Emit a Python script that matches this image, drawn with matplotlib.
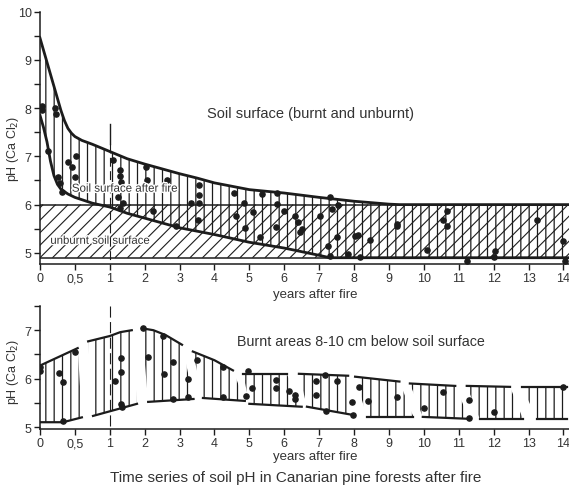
import numpy as np
import matplotlib
matplotlib.use("Agg")
import matplotlib.pyplot as plt
import matplotlib.patheffects as pe
from matplotlib.collections import LineCollection
from matplotlib.ticker import MultipleLocator, NullLocator

plt.rcParams['font.family'] = ['Liberation Sans', 'DejaVu Sans']
plt.rcParams['hatch.linewidth'] = 0.9

INK = '#1c1c1c'
TXT = '#333333'

# ---- top panel: soil surface ----
unburnt_top = 6.0
unburnt_bottom = 4.9

upper_years = [0, 0.05, 0.1, 0.15, 0.2, 0.25, 0.3, 0.35, 0.4, 0.45, 0.5, 0.6, 0.75, 1.0,
               1.5, 2, 2.5, 3, 3.5, 4, 5, 6, 7, 8, 9, 9.3, 14.2]
upper_ph = [9.45, 9.2, 8.95, 8.7, 8.45, 8.2, 7.95, 7.74, 7.58, 7.48, 7.41, 7.33, 7.25, 7.1,
            6.95, 6.84, 6.74, 6.64, 6.55, 6.45, 6.31, 6.24, 6.15, 6.07, 6.01, 6.0, 6.0]
lower_years = [0, 0.05, 0.1, 0.15, 0.2, 0.25, 0.3, 0.4, 0.5, 0.75, 1.0, 1.5, 2, 3, 4, 5, 6, 7, 7.3, 14.2]
lower_ph = [7.85, 7.6, 7.3, 6.9, 6.6, 6.42, 6.32, 6.22, 6.15, 6.03, 5.95, 5.82, 5.72, 5.52, 5.38, 5.22, 5.1, 4.95, 4.9, 4.9]

top_pts_years = [0.03, 0.03, 0.11, 0.21, 0.23, 0.26, 0.29, 0.31, 0.40, 0.46, 0.50, 0.52,
                 1.08, 1.29, 1.29, 1.32, 1.24, 1.29, 1.38, 2.03, 2.06, 2.24, 2.63, 2.9,
                 3.34, 3.57, 3.57, 3.57, 3.54, 4.55, 4.63, 4.84, 4.87, 5.1, 5.36, 5.3,
                 5.79, 5.79, 5.76, 5.99, 6.3, 6.4, 6.5, 6.45, 7.02, 7.3, 7.37, 7.54, 7.5,
                 7.26, 7.3, 7.83, 8.02, 8.1, 8.17, 8.45, 9.23, 9.23, 10.1, 10.55, 10.66,
                 10.66, 11.23, 12.04, 12.0, 13.24, 13.99, 14.04]
top_pts_ph = [8.05, 7.95, 7.12, 8.0, 7.88, 6.57, 6.45, 6.27, 6.88, 6.78, 6.57, 7.0,
              6.92, 6.72, 6.6, 6.47, 6.16, 5.94, 6.04, 6.78, 6.51, 5.86, 6.51, 5.55,
              6.04, 6.41, 6.2, 6.04, 5.69, 6.24, 5.76, 6.04, 5.51, 5.84, 6.22, 5.33,
              6.24, 6.02, 5.53, 5.86, 5.76, 5.65, 5.49, 5.43, 5.76, 6.16, 5.9, 6.0, 5.33,
              5.14, 4.94, 4.98, 5.35, 5.37, 4.92, 5.27, 5.59, 5.55, 5.06, 5.69, 5.86,
              5.55, 4.84, 5.04, 4.92, 5.69, 5.24, 4.84]

# ---- bottom panel: 8-10 cm below surface, drawn in separate blocks ----
seg_up_years = [[0, 0.27, 0.54], [0.69, 1.0, 1.3, 1.63], [1.92, 2.25, 2.6, 3.07],
                [3.38, 4.0, 4.53], [4.82, 6.07], [6.42, 7.83], [8.03, 9.3],
                [9.6, 10.9], [11.23, 12.47], [12.8, 14.1]]
seg_up_ph = [[6.27, 6.45, 6.63], [6.77, 6.88, 6.96, 7.0], [7.04, 7.0, 6.9, 6.7],
             [6.56, 6.38, 6.17], [6.1, 6.1], [6.1, 6.06], [6.04, 5.94],
             [5.9, 5.85], [5.85, 5.83], [5.83, 5.83]]
seg_lo_years = [[0, 0.33, 0.6], [0.76, 1.78], [2.1, 3.4], [3.67, 4.87], [5.0, 6.5],
                [6.65, 7.97], [8.37, 9.7], [9.97, 11.3], [11.6, 12.84], [13.24, 14.1]]
seg_lo_ph = [[5.1, 5.1, 5.2], [5.23, 5.48], [5.52, 5.58], [5.6, 5.54], [5.48, 5.42],
             [5.42, 5.25], [5.21, 5.21], [5.21, 5.17], [5.17, 5.17], [5.17, 5.17]]

bot_pts_years = [0, 0, 0.27, 0.33, 0.33, 0.5, 1.15, 1.32, 1.32, 1.32, 1.34, 1.95, 2.1,
                 2.52, 2.56, 2.82, 2.82, 3.25, 3.25, 3.5, 4.24, 4.24, 4.9, 4.96, 5.07,
                 5.76, 5.76, 6.13, 6.3, 6.3, 6.9, 6.9, 7.17, 7.21, 7.5, 7.94, 7.97,
                 8.14, 8.4, 9.23, 10.0, 10.55, 11.29, 11.29, 12.0, 13.99]
bot_pts_ph = [6.25, 6.15, 6.12, 5.94, 5.12, 6.56, 5.96, 6.42, 6.13, 5.48, 5.42, 7.04, 6.44,
              6.88, 6.1, 6.35, 5.58, 6.0, 5.63, 6.38, 6.25, 5.63, 5.65, 6.15, 5.81,
              5.98, 5.81, 5.75, 5.67, 5.58, 5.96, 5.67, 6.08, 5.33, 5.96, 5.52, 5.25,
              5.83, 5.54, 5.63, 5.4, 5.73, 5.56, 5.19, 5.31, 5.83]

x_ticks = [0, 0.5, 1, 2, 3, 4, 5, 6, 7, 8, 9, 10, 11, 12, 13, 14]
x_labels = ['0', '0,5', '1', '2', '3', '4', '5', '6', '7', '8', '9', '10', '11', '12', '13', '14']
x_max = 14.16
top_ylim = (4.77, 10)
bot_ylim = (4.96, 7.5)


def fwd(x):
    x = np.asarray(x, dtype=float)
    return np.where(x <= 1, 2 * x, x + 1)


def inv(t):
    t = np.asarray(t, dtype=float)
    return np.where(t <= 2, t / 2, t - 1)


W, H = 569, 489
fig = plt.figure(figsize=(W / 100, H / 100), dpi=100)
ax1 = fig.add_axes([40 / W, 1 - 265 / H, 529 / W, (265 - 12.5) / H])
ax2 = fig.add_axes([40 / W, 1 - 430 / H, 529 / W, (430 - 307) / H])

for ax in (ax1, ax2):
    ax.set_xscale('function', functions=(fwd, inv))
    ax.set_xlim(0, x_max)
    ax.set_xticks(x_ticks)
    ax.set_xticklabels(x_labels)
    ax.xaxis.set_minor_locator(NullLocator())
    ax.yaxis.set_major_locator(MultipleLocator(1))
    ax.yaxis.set_minor_locator(MultipleLocator(0.5))
    for s in ('top', 'right'):
        ax.spines[s].set_visible(False)
    for s in ('left', 'bottom'):
        ax.spines[s].set_color(INK)
        ax.spines[s].set_linewidth(1.1)
    ax.tick_params(which='both', direction='out', length=4, width=1, colors=INK,
                   labelcolor=TXT, labelsize=9, pad=2)
    ax.set_ylabel('pH (Ca Cl$_2$)', fontsize=9, color=TXT)
    ax.set_xlabel('years after fire', fontsize=9.5, color=TXT)

ax1.set_ylim(*top_ylim)
ax2.set_ylim(*bot_ylim)
ax1.yaxis.set_label_coords(-0.035, 0.46)
ax2.yaxis.set_label_coords(-0.035, 0.47)
ax1.xaxis.set_label_coords(0.52, -0.095)
ax2.xaxis.set_label_coords(0.52, -0.17)

# unburnt band with diagonal (45 degree) hatching, built in axes coordinates
ax1.axhline(unburnt_top, color=INK, lw=1.1)
ax1.axhline(unburnt_bottom, color=INK, lw=1.1)
pos = ax1.get_position()
aw, ah = pos.width * W, pos.height * H
yb = (unburnt_bottom - top_ylim[0]) / (top_ylim[1] - top_ylim[0])
yt = (unburnt_top - top_ylim[0]) / (top_ylim[1] - top_ylim[0])
band_px = (yt - yb) * ah
step = 12.5
segs = []
for k in range(-int(band_px / step) - 2, int(aw / step) + 2):
    x0 = k * step
    segs.append([(x0 / aw, yb), ((x0 + band_px) / aw, yt)])
lc = LineCollection(segs, transform=ax1.transAxes, colors=INK, linewidths=0.8)
ax1.add_collection(lc)

# burnt envelope with vertical hatching
lo_interp = np.interp(upper_years, lower_years, lower_ph)
ax1.fill_between(upper_years, lo_interp, upper_ph, hatch='||', facecolor='none',
                 edgecolor=INK, linewidth=0)
ax1.plot(upper_years, upper_ph, color=INK, lw=2)
ax1.plot(lower_years, lower_ph, color=INK, lw=2)
ax1.scatter(top_pts_years, top_pts_ph, s=14, color=INK, zorder=5)

ax1.plot([1, 1], [7.67, 7.25], color=INK, lw=1)
ax1.plot([1, 1], [7.25, 4.77], color=INK, lw=0.8, ls=(0, (8, 4)))

halo = [pe.withStroke(linewidth=2, foreground='white')]
ax1.text(6.74, 7.9, 'Soil surface (burnt and unburnt)', fontsize=10.5, color=TXT,
         ha='center', va='center')
ax1.text(1.43, 6.33, 'Soil surface after fire', fontsize=8.3, color=TXT,
         ha='center', va='center', path_effects=halo, zorder=6)
ax1.text(0.86, 5.25, 'unburnt soil surface', fontsize=8.2, color=TXT,
         ha='center', va='center', path_effects=halo, zorder=6)

# bottom panel blocks
for xu, yu, xl, yl in zip(seg_up_years, seg_up_ph, seg_lo_years, seg_lo_ph):
    px = list(xu) + list(xl[::-1])
    py = list(yu) + list(yl[::-1])
    ax2.fill(px, py, hatch='||', facecolor='none', edgecolor=INK, linewidth=0)
    ax2.plot(xu, yu, color=INK, lw=1.6)
    ax2.plot(xl, yl, color=INK, lw=1.6)
ax2.scatter(bot_pts_years, bot_pts_ph, s=14, color=INK, zorder=5)
ax2.plot([1, 1], [7.5, 4.96], color=INK, lw=0.8, ls=(0, (10, 4)))
ax2.text(8.2, 6.77, 'Burnt areas 8-10 cm below soil surface', fontsize=10.3,
         color=TXT, ha='center', va='center')

fig.text(0.52, 0.022, 'Time series of soil pH in Canarian pine forests after fire',
         fontsize=11, color=TXT, ha='center', va='center')

fig.savefig('out.png', dpi=100)
